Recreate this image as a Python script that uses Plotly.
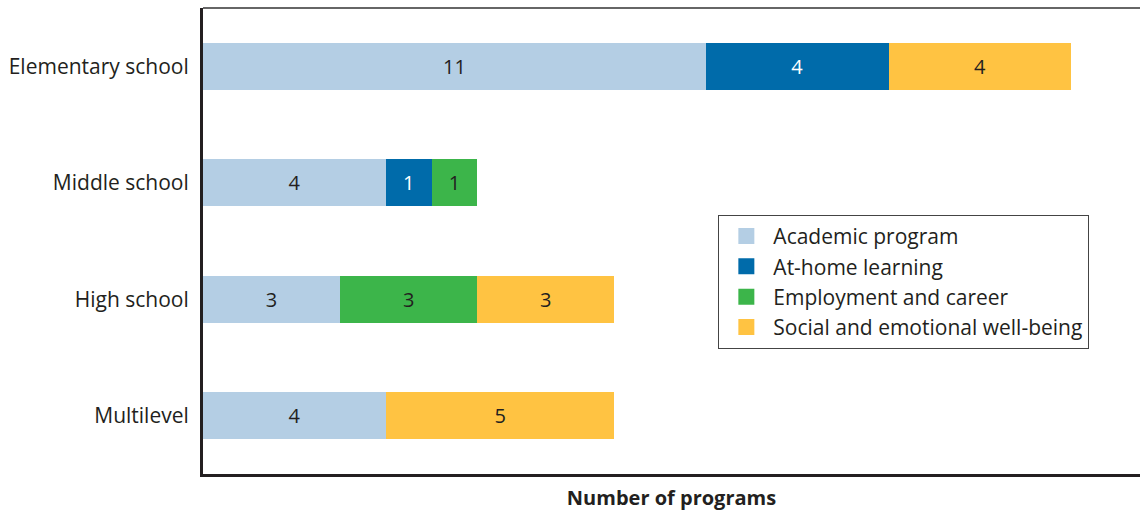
import plotly.graph_objects as go

categories = ["Elementary school", "Middle school", "High school", "Multilevel"]
series_names = ["Academic program", "At-home learning", "Employment and career",
                "Social and emotional well-being"]
academic = [11, 4, 3, 4]
at_home = [4, 1, None, None]
employment = [None, 1, 3, None]
social = [4, None, 3, 5]
values = [academic, at_home, employment, social]
colors = ["#B4CEE4", "#006BAA", "#3CB54A", "#FFC342"]
text_colors = ["#231F20", "#FFFFFF", "#231F20", "#231F20"]

FONT = "Open Sans"

fig = go.Figure()
for name, vals, col, tcol in zip(series_names, values, colors, text_colors):
    fig.add_trace(go.Bar(
        y=categories, x=vals, orientation="h", name=name,
        marker=dict(color=col, line=dict(width=0)),
        text=[("" if v is None else str(v)) for v in vals],
        textposition="inside", insidetextanchor="middle",
        textfont=dict(family=FONT, size=20, color=tcol),
        showlegend=False, width=0.405,
    ))
    fig.add_trace(go.Scatter(
        x=[None], y=[None], mode="markers", name=name,
        marker=dict(symbol="square", size=16, color=col),
        showlegend=True,
    ))

fig.update_layout(
    barmode="stack",
    width=1140, height=513,
    margin=dict(l=203, r=0, t=8, b=39),
    paper_bgcolor="white", plot_bgcolor="white",
    font=dict(family=FONT, size=21, color="#231F20"),
    legend=dict(
        x=0.55, y=0.556, xanchor="left", yanchor="top",
        traceorder="normal", itemwidth=44,
        bordercolor="#444444", borderwidth=1, bgcolor="white",
        font=dict(family=FONT, size=21, color="#231F20"),
        itemclick=False,
    ),
    xaxis=dict(
        range=[0, 20.5], showgrid=False, zeroline=False,
        showticklabels=False, ticks="",
        showline=True, linecolor="#231F20", linewidth=3,
        title=dict(text="<b>Number of programs</b>",
                   font=dict(family=FONT, size=20, color="#231F20"),
                   standoff=15),
    ),
    yaxis=dict(
        categoryorder="array", categoryarray=categories[::-1],
        range=[-0.5, 3.5], showgrid=False, zeroline=False,
        showline=True, linecolor="#231F20", linewidth=3,
        ticks="", ticklabelstandoff=7,
        tickfont=dict(family=FONT, size=21, color="#231F20"),
    ),
    shapes=[dict(type="line", xref="paper", yref="paper",
                 x0=0, x1=1, y0=1, y1=1,
                 line=dict(color="#666666", width=2))],
)

fig.write_html("out.html", config={"displayModeBar": False},
               post_script="document.body.style.margin='0';")
